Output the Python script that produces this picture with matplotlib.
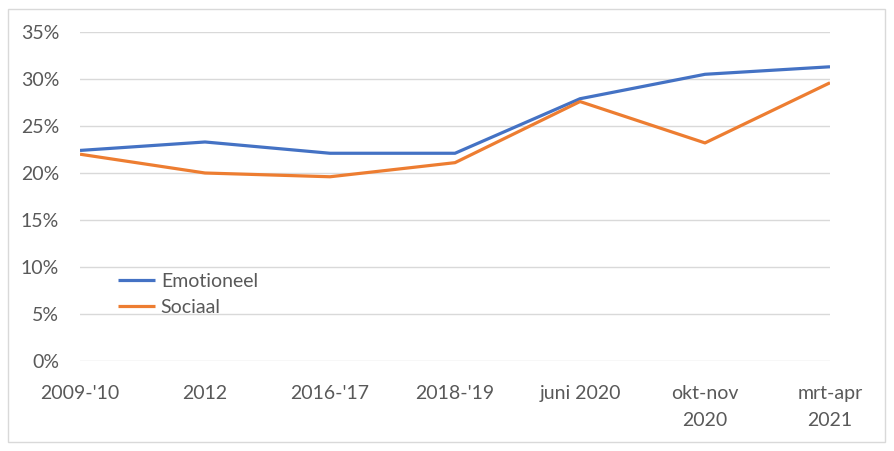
import matplotlib.pyplot as plt
from matplotlib.patches import Rectangle
from matplotlib.ticker import PercentFormatter

periods = ["2009-'10", "2012", "2016-'17", "2018-'19", "juni 2020", "okt-nov\n2020", "mrt-apr\n2021"]
emotioneel = [22.4, 23.3, 22.1, 22.1, 27.9, 30.5, 31.3]
sociaal = [22.0, 20.0, 19.6, 21.1, 27.6, 23.2, 29.6]

plt.rcParams['font.family'] = ['Lato', 'DejaVu Sans']
text_color = '#595959'

fig = plt.figure(figsize=(8.95, 4.51), dpi=100)
ax = fig.add_axes([80 / 895, 90 / 451, 750 / 895, 329 / 451])

x = range(len(periods))
ax.plot(x, emotioneel, color='#4472C4', lw=2.3, label='Emotioneel', solid_capstyle='butt')
ax.plot(x, sociaal, color='#ED7D31', lw=2.3, label='Sociaal', solid_capstyle='butt')

ax.set_xlim(0, len(periods) - 1)
ax.set_ylim(0, 35)
ax.set_yticks(range(0, 36, 5))
ax.yaxis.set_major_formatter(PercentFormatter(decimals=0))
ax.set_xticks(list(x))
ax.set_xticklabels(periods, linespacing=1.75)
ax.tick_params(axis='both', length=0, labelsize=14, colors=text_color)
ax.tick_params(axis='y', pad=15)
ax.tick_params(axis='x', pad=17)
ax.grid(axis='y', color='#d9d9d9', lw=1)
ax.set_axisbelow(True)
for s in ax.spines.values():
    s.set_visible(False)

leg = fig.legend(loc='upper left', bbox_to_anchor=(118 / 895, 1 - 273 / 451), frameon=False,
                 fontsize=14, handlelength=1.9, handletextpad=0.3, borderpad=0, borderaxespad=0,
                 labelspacing=0.45)
for t in leg.get_texts():
    t.set_color(text_color)

fig.patches.append(Rectangle((8 / 895, 9 / 451), 877 / 895, 433 / 451, transform=fig.transFigure,
                             fill=False, edgecolor='#d9d9d9', lw=1))

fig.savefig('out.png', dpi=100)
